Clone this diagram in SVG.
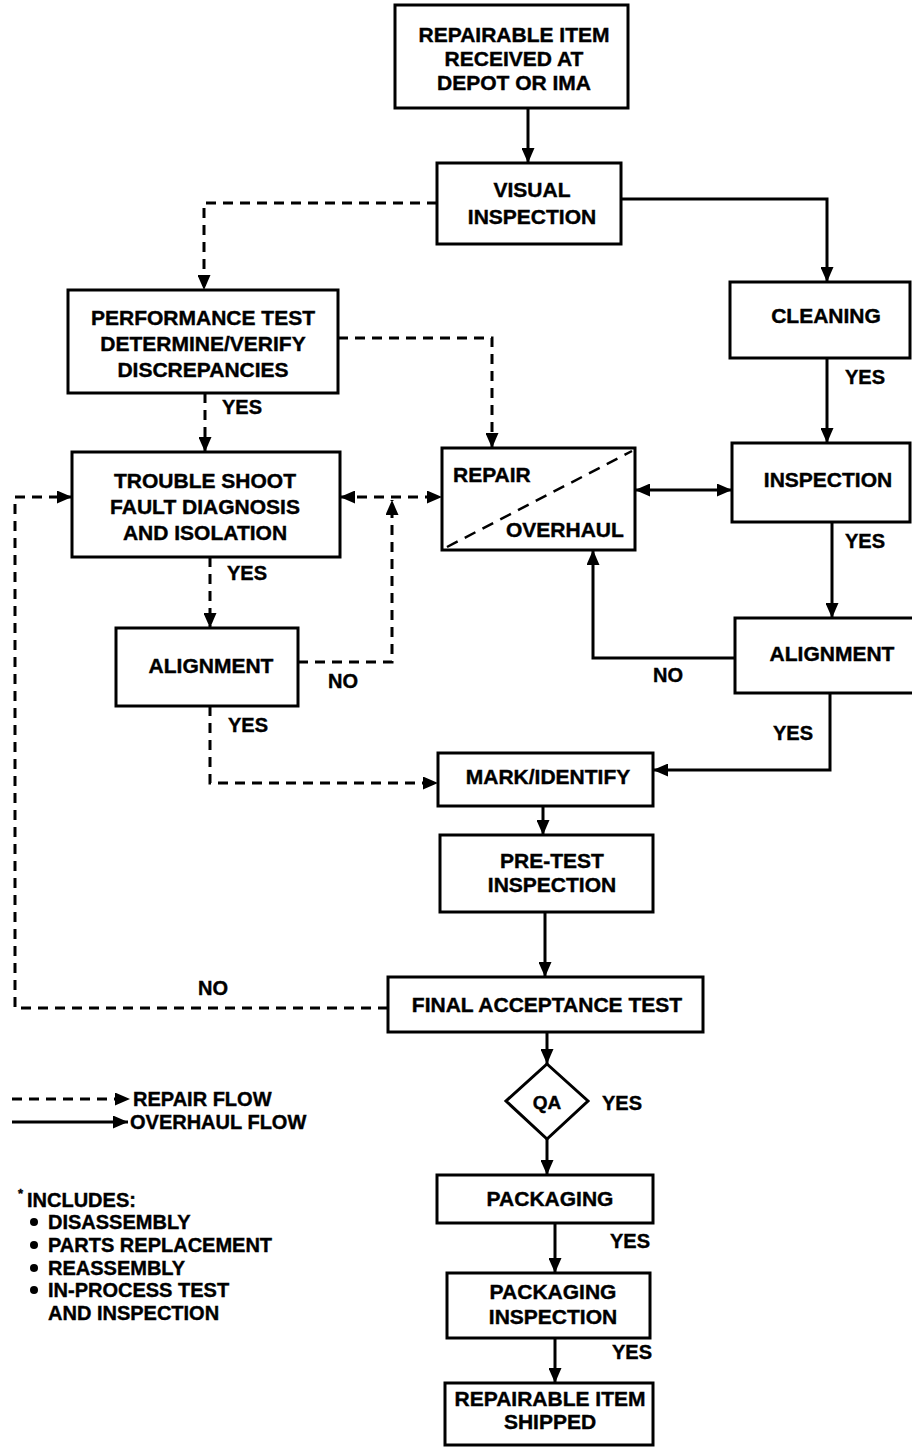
<svg xmlns="http://www.w3.org/2000/svg" width="912" height="1447" viewBox="0 0 912 1447">
<style>
.box{fill:#fff;stroke:#000;stroke-width:3}
.t{font-family:"Liberation Sans",Arial,Helvetica,sans-serif;font-weight:bold;font-size:21px;fill:#000;stroke:#000;stroke-width:0.4;text-anchor:middle}
.l{font-family:"Liberation Sans",Arial,Helvetica,sans-serif;font-weight:bold;font-size:20px;fill:#000;stroke:#000;stroke-width:0.4}
.s{fill:none;stroke:#000;stroke-width:3}
.d{fill:none;stroke:#000;stroke-width:3;stroke-dasharray:10 7}
</style>
<defs>
<marker id="ah" viewBox="0 0 15 13" refX="15" refY="6.5" markerWidth="15" markerHeight="13" markerUnits="userSpaceOnUse" orient="auto-start-reverse"><path d="M0,0 L15,6.5 L0,13 z" fill="#000"/></marker>
</defs>
<rect width="912" height="1447" fill="#fff"/>

<g id="connectors">
<path class="s" d="M528,108 V163" marker-end="url(#ah)"/>
<path class="s" d="M621,199 H827 V282" marker-end="url(#ah)"/>
<path class="d" d="M437,203 H204 V290" marker-end="url(#ah)"/>
<path class="d" d="M338,338 H492 V448" marker-end="url(#ah)"/>
<path class="d" d="M205,393 V452" marker-end="url(#ah)"/>
<path class="d" d="M340,497 H442" marker-start="url(#ah)" marker-end="url(#ah)"/>
<path class="d" d="M298,662 H392 V500" marker-end="url(#ah)"/>
<path class="d" d="M210,557 V628" marker-end="url(#ah)"/>
<path class="d" d="M210,706 V783 H438" marker-end="url(#ah)"/>
<path class="s" d="M827,358 V443" marker-end="url(#ah)"/>
<path class="s" d="M635,490 H732" marker-start="url(#ah)" marker-end="url(#ah)"/>
<path class="s" d="M832,522 V618" marker-end="url(#ah)"/>
<path class="s" d="M735,658 H593 V550" marker-end="url(#ah)"/>
<path class="s" d="M830,693 V770 H653" marker-end="url(#ah)"/>
<path class="s" d="M543,806 V835" marker-end="url(#ah)"/>
<path class="s" d="M545,912 V977" marker-end="url(#ah)"/>
<path class="d" d="M388,1008 H15 V497 H72" marker-end="url(#ah)"/>
<path class="s" d="M547,1032 V1064" marker-end="url(#ah)"/>
<path class="s" d="M547,1139 V1175" marker-end="url(#ah)"/>
<path class="s" d="M555,1223 V1273" marker-end="url(#ah)"/>
<path class="s" d="M555,1338 V1383" marker-end="url(#ah)"/>
<text class="l" x="222" y="414">YES</text>
<text class="l" x="227" y="580">YES</text>
<text class="l" x="328" y="688">NO</text>
<text class="l" x="228" y="732">YES</text>
<text class="l" x="845" y="384">YES</text>
<text class="l" x="845" y="548">YES</text>
<text class="l" x="653" y="682">NO</text>
<text class="l" x="773" y="740">YES</text>
<text class="l" x="198" y="995">NO</text>
<text class="l" x="602" y="1110">YES</text>
<text class="l" x="610" y="1248">YES</text>
<text class="l" x="612" y="1359">YES</text>
</g>

<g id="n-received"><rect class="box" x="395" y="5" width="233" height="103"/>
<text class="t" x="514" y="42">REPAIRABLE ITEM</text><text class="t" x="514" y="66">RECEIVED AT</text><text class="t" x="514" y="90">DEPOT OR IMA</text></g>

<g id="n-visual"><rect class="box" x="437" y="163" width="184" height="81"/>
<text class="t" x="532" y="197">VISUAL</text><text class="t" x="532" y="224">INSPECTION</text></g>

<g id="n-perf"><rect class="box" x="68" y="290" width="270" height="103"/>
<text class="t" x="203" y="325">PERFORMANCE TEST</text><text class="t" x="203" y="351">DETERMINE/VERIFY</text><text class="t" x="203" y="377">DISCREPANCIES</text></g>

<g id="n-trouble"><rect class="box" x="72" y="452" width="268" height="105"/>
<text class="t" x="205" y="488">TROUBLE SHOOT</text><text class="t" x="205" y="514">FAULT DIAGNOSIS</text><text class="t" x="205" y="540">AND ISOLATION</text></g>

<g id="n-repair"><rect class="box" x="442" y="448" width="193" height="102"/>
<path d="M447,547 L632,451" fill="none" stroke="#000" stroke-width="2.5" stroke-dasharray="12 8"/>
<text class="t" x="453" y="482" style="text-anchor:start">REPAIR</text><text class="t" x="506" y="537" style="text-anchor:start">OVERHAUL</text></g>

<g id="n-cleaning"><rect class="box" x="730" y="282" width="180" height="76"/>
<text class="t" x="826" y="323">CLEANING</text></g>

<g id="n-inspection"><rect class="box" x="732" y="443" width="178" height="79"/>
<text class="t" x="828" y="487">INSPECTION</text></g>

<g id="n-align-left"><rect class="box" x="116" y="628" width="182" height="78"/>
<text class="t" x="211" y="673">ALIGNMENT</text></g>

<g id="n-align-right"><rect class="box" x="735" y="618" width="180" height="75"/>
<text class="t" x="832" y="661">ALIGNMENT</text></g>

<g id="n-mark"><rect class="box" x="438" y="753" width="215" height="53"/>
<text class="t" x="548" y="784">MARK/IDENTIFY</text></g>

<g id="n-pretest"><rect class="box" x="440" y="835" width="213" height="77"/>
<text class="t" x="552" y="868">PRE-TEST</text><text class="t" x="552" y="892">INSPECTION</text></g>

<g id="n-final"><rect class="box" x="388" y="977" width="315" height="55"/>
<text class="t" x="547" y="1012">FINAL ACCEPTANCE TEST</text></g>

<g id="n-qa"><path class="box" d="M547,1064 L588,1101 L547,1139 L506,1101 z"/>
<text class="t" x="547" y="1109" style="font-size:19px">QA</text></g>

<g id="n-packaging"><rect class="box" x="437" y="1175" width="216" height="48"/>
<text class="t" x="550" y="1206">PACKAGING</text></g>

<g id="n-pack-insp"><rect class="box" x="447" y="1273" width="203" height="65"/>
<text class="t" x="553" y="1299">PACKAGING</text><text class="t" x="553" y="1324">INSPECTION</text></g>

<g id="n-shipped"><rect class="box" x="445" y="1383" width="208" height="62"/>
<text class="t" x="550" y="1406">REPAIRABLE ITEM</text><text class="t" x="550" y="1429">SHIPPED</text></g>

<g id="legend">
<path class="d" d="M12,1099 H130" marker-end="url(#ah)"/>
<text class="l" x="133" y="1106">REPAIR FLOW</text>
<path class="s" d="M12,1122 H128" marker-end="url(#ah)"/>
<text class="l" x="130" y="1129">OVERHAUL FLOW</text>
<text class="l" x="18" y="1198" style="font-size:13px">*</text>
<text class="l" x="27" y="1207">INCLUDES:</text>
<circle cx="34" cy="1222" r="4"/><text class="l" x="48" y="1229">DISASSEMBLY</text>
<circle cx="34" cy="1245" r="4"/><text class="l" x="48" y="1252">PARTS REPLACEMENT</text>
<circle cx="34" cy="1268" r="4"/><text class="l" x="48" y="1275">REASSEMBLY</text>
<circle cx="34" cy="1290" r="4"/><text class="l" x="48" y="1297">IN-PROCESS TEST</text>
<text class="l" x="48" y="1320">AND INSPECTION</text>
</g>
</svg>
